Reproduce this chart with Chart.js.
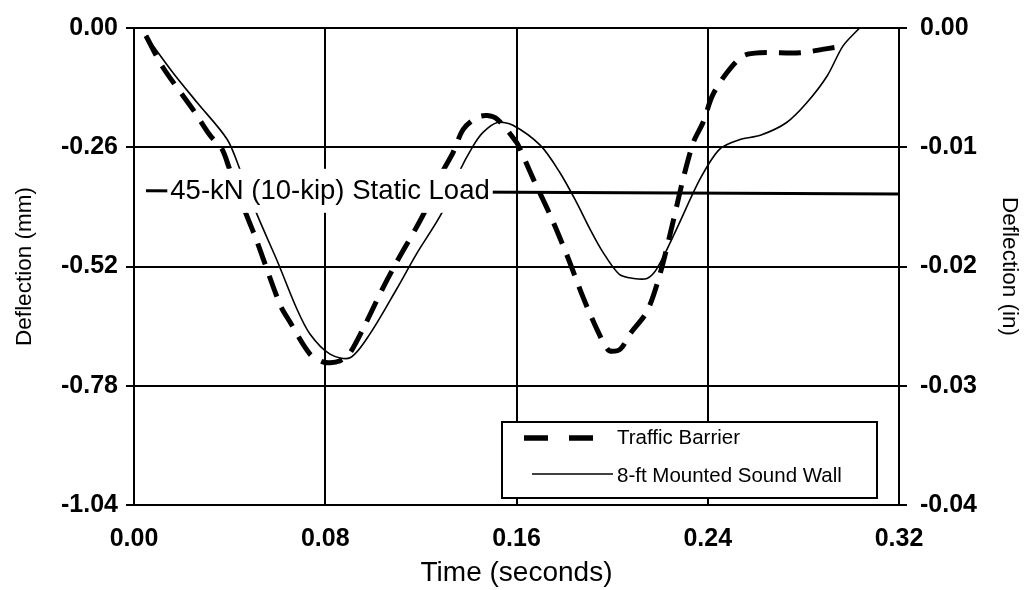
<!DOCTYPE html>
<html><head><meta charset="utf-8">
<script src="https://cdn.jsdelivr.net/npm/chart.js@4.4.1/dist/chart.umd.min.js"></script>
<style>html,body{margin:0;padding:0;background:#fff}canvas{display:block}</style>
</head><body>
<canvas id="c" width="1027" height="590"></canvas>
<script>
/* ---- data: time (s) vs deflection (mm) ---- */
const barrierT=[0.005,0.012,0.0247,0.0318,0.0368,0.040,0.047,0.051,0.061,0.065,0.0736,0.079,0.082,0.086,0.090,0.096,0.104,0.110,0.121,0.129,0.1335,0.1377,0.1435,0.1477,0.152,0.160,0.1615,0.167,0.174,0.181,0.188,0.194,0.198,0.200,0.2035,0.2075,0.2146,0.220,0.2255,0.2297,0.234,0.238,0.242,0.248,0.2548,0.262,0.2786,0.290,0.298];
const barrierD=[-0.017,-0.085,-0.178,-0.234,-0.264,-0.308,-0.407,-0.459,-0.602,-0.639,-0.711,-0.728,-0.730,-0.726,-0.711,-0.654,-0.568,-0.509,-0.407,-0.314,-0.271,-0.221,-0.195,-0.191,-0.199,-0.249,-0.264,-0.329,-0.407,-0.494,-0.589,-0.661,-0.700,-0.705,-0.700,-0.667,-0.618,-0.537,-0.422,-0.329,-0.249,-0.206,-0.147,-0.0975,-0.061,-0.054,-0.054,-0.045,-0.039];
const wallT=[0.005,0.0163,0.0264,0.039,0.0443,0.0515,0.060,0.068,0.0736,0.082,0.0904,0.0987,0.110,0.118,0.129,0.136,0.142,0.146,0.152,0.1585,0.170,0.178,0.185,0.1907,0.196,0.203,0.209,0.2146,0.2188,0.227,0.2368,0.245,0.2535,0.262,0.273,0.2815,0.290,0.2966,0.3035];
const wallD=[-0.017,-0.0975,-0.1625,-0.243,-0.308,-0.407,-0.509,-0.611,-0.667,-0.711,-0.719,-0.667,-0.568,-0.494,-0.401,-0.314,-0.256,-0.2275,-0.206,-0.212,-0.256,-0.314,-0.379,-0.438,-0.4875,-0.537,-0.546,-0.546,-0.524,-0.438,-0.329,-0.264,-0.243,-0.234,-0.206,-0.1625,-0.104,-0.039,0.0];
const loadT=[0.005,0.16,0.32];
const loadD=[-0.355,-0.358,-0.362];
const xTicks=[0,0.08,0.16,0.24,0.32];
const mmTicks=[0,-0.26,-0.52,-0.78,-1.04];
const inTicks=[0,-0.01,-0.02,-0.03,-0.04];
const seriesNames=['Traffic Barrier','8-ft Mounted Sound Wall'];
const loadLabel='45-kN (10-kip) Static Load';

const FF="'Liberation Sans', Arial, Helvetica, sans-serif";
const pts=(t,d)=>t.map((x,i)=>({x,y:d[i]}));
const fixTicks=arr=>s=>{s.ticks=arr.map(v=>({value:v}));};

// text label with white box over the static load line
const loadLabelPlugin={id:'loadLabel',afterDatasetsDraw(ch){
  const c=ch.ctx,x=ch.scales.x,y=ch.scales.y;
  const cx=x.getPixelForValue(0.082),cy=y.getPixelForValue(loadD[0]);
  c.save();c.font='27.5px '+FF;
  const w=c.measureText(loadLabel).width;
  c.fillStyle='#fff';c.fillRect(cx-w/2-3,cy-22,w+6,44);
  c.fillStyle='#000';c.textAlign='center';c.textBaseline='middle';
  c.fillText(loadLabel,cx,cy+1);c.restore();
}};

// boxed legend in lower right of the plot
const boxLegend={id:'boxLegend',afterDatasetsDraw(ch){
  const c=ch.ctx,a=ch.chartArea;
  const L=a.right-397,T=a.bottom-83,W=375,H=76;
  c.save();
  c.fillStyle='#fff';c.fillRect(L,T,W,H);
  c.strokeStyle='#000';c.lineWidth=2;c.strokeRect(L,T,W,H);
  c.lineWidth=5.5;c.setLineDash([24,21]);
  c.beginPath();c.moveTo(L+22,T+16);c.lineTo(L+96,T+16);c.stroke();
  c.setLineDash([]);c.lineWidth=1.5;
  c.beginPath();c.moveTo(L+30,T+52);c.lineTo(L+111,T+52);c.stroke();
  c.fillStyle='#000';c.font='20.5px '+FF;c.textBaseline='middle';
  c.fillText(seriesNames[0],L+115,T+16);
  c.fillText(seriesNames[1],L+115,T+54);
  c.restore();
}};

new Chart(document.getElementById('c'),{
  type:'line',
  data:{datasets:[
    {label:'Static Load',data:pts(loadT,loadD),borderColor:'#000',borderWidth:3,pointRadius:0,yAxisID:'y'},
    {label:seriesNames[1],data:pts(wallT,wallD),borderColor:'#000',borderWidth:1.6,pointRadius:0,tension:0.3,yAxisID:'y'},
    {label:seriesNames[0],data:pts(barrierT,barrierD),borderColor:'#000',borderWidth:5,borderDash:[22,12],pointRadius:0,tension:0.3,yAxisID:'y'}
  ]},
  options:{responsive:false,animation:false,
    layout:{padding:{top:25,left:0,right:0,bottom:0}},
    plugins:{legend:{display:false},tooltip:{enabled:false}},
    scales:{
      x:{type:'linear',min:0,max:0.32,afterBuildTicks:fixTicks(xTicks),
        afterFit(s){s.height=85;},
        grid:{color:'#000',lineWidth:2,drawTicks:false},border:{color:'#000',width:2},
        ticks:{color:'#000',padding:19,font:{family:FF,size:25,weight:'bold'},callback:v=>v.toFixed(2)},
        title:{display:true,text:'Time (seconds)',color:'#000',font:{family:FF,size:28},padding:{top:0,bottom:0}}},
      y:{position:'left',min:-1.04,max:0,afterBuildTicks:fixTicks(mmTicks),
        afterFit(s){s.width=134;},
        grid:{color:'#000',lineWidth:2,tickLength:8},border:{color:'#000',width:2},
        ticks:{color:'#000',padding:8,font:{family:FF,size:25,weight:'bold'},callback:v=>v.toFixed(2)},
        title:{display:true,text:'Deflection (mm)',color:'#000',font:{family:FF,size:22.5},padding:{top:11,bottom:0}}},
      y2:{position:'right',min:-0.04,max:0,afterBuildTicks:fixTicks(inTicks),
        afterFit(s){s.width=128;},
        grid:{drawOnChartArea:false,color:'#000',lineWidth:2,tickLength:8},border:{color:'#000',width:2},
        ticks:{color:'#000',padding:13,font:{family:FF,size:25,weight:'bold'},callback:v=>v.toFixed(2)},
        title:{display:true,text:'Deflection (in)',color:'#000',font:{family:FF,size:22.5},padding:{top:4,bottom:0}}}
    }
  },
  plugins:[loadLabelPlugin,boxLegend]
});
</script>
</body></html>
